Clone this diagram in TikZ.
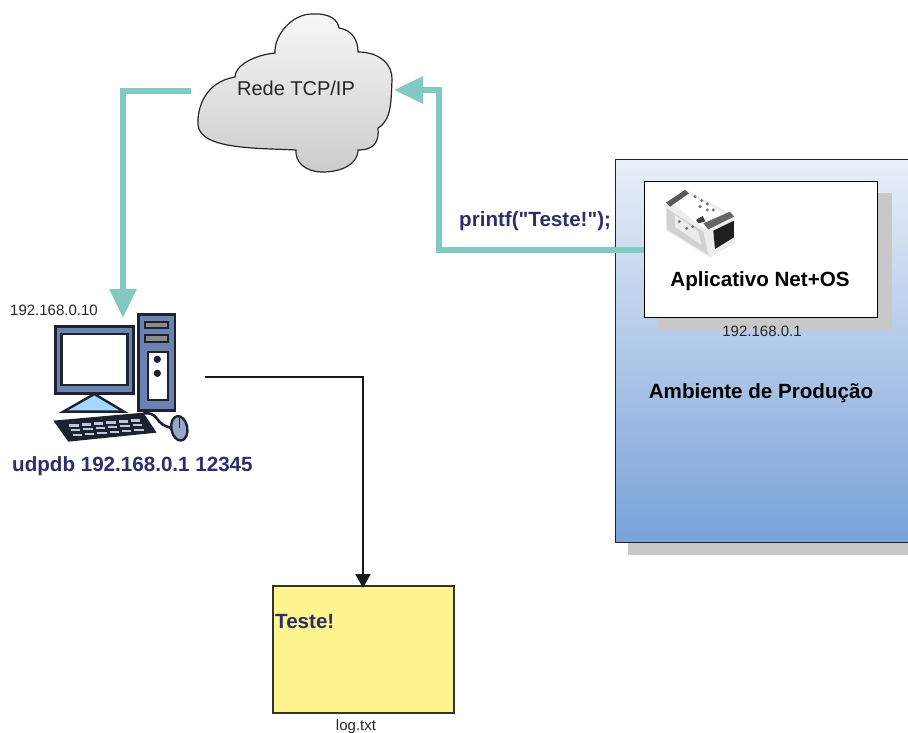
\documentclass[tikz,border=0pt]{standalone}
\usepackage{fontspec}
\setmainfont{Liberation Sans}
\newfontfamily\rawf{Liberation Sans}
\usetikzlibrary{arrows.meta,calc}
\definecolor{teal1}{HTML}{82C9C4}
\definecolor{navy1}{HTML}{2E2E6E}
\definecolor{shad}{HTML}{C8C8C8}
\definecolor{boxtop}{HTML}{E9EFF8}
\definecolor{boxbot}{HTML}{78A2D9}
\definecolor{notey}{HTML}{FFF58F}
\definecolor{towerb}{HTML}{6C82B0}
\definecolor{inkd}{HTML}{1C2230}
\tikzset{
  tealline/.style={draw=teal1,line width=6pt,line join=miter,-{Triangle[length=29pt,width=26pt]}},
  blackline/.style={draw=black!90,line width=2.6pt,-{Triangle[length=14pt,width=15pt]}},
  smalltxt/.style={font=\fontsize{15}{16}\selectfont,text=black!85,inner sep=0pt},
  boldblack/.style={font=\bfseries\fontsize{20.6}{22}\selectfont,text=black,inner sep=0pt},
  boldnavy/.style={font=\bfseries\fontsize{20.6}{22}\selectfont,text=navy1,inner sep=0pt},
  pcline/.style={draw=inkd,line width=2.6pt,line join=round},
}
\begin{document}
\begin{tikzpicture}[x=1pt,y=-1pt]
\useasboundingbox (0,0) rectangle (908,733);
\fill[white] (0,0) rectangle (908,733);
% production box
\fill[shad] (628,172) rectangle (908,555);
\node[draw=inkd,line width=1.2pt,top color=boxtop,bottom color=boxbot,minimum width=300pt,minimum height=383pt,inner sep=0pt,anchor=north west] (prod) at (615,159) {};
\fill[shad] (658,193) rectangle (892,330);
\node[draw=black,line width=1.4pt,fill=white,minimum width=233pt,minimum height=136pt,inner sep=0pt,anchor=north west] (app) at (644,181) {};
\node[boldblack] (apptxt) at (760,281) {Aplicativo Net+OS};
\node[smalltxt] (appip) at (762,331) {192.168.0.1};
\node[boldblack] (amb) at (761,393) {Ambiente de Produção};
% chip
\begin{scope}[shift={(620,160)},x=0.3333pt,y=-0.3333pt]
\fill[black!7] (135,130)--(200,90)--(340,165)--(345,250)--(270,292)--(240,275)--(140,212)--cycle;
\fill[white] (160,130)--(210,105)--(325,170)--(250,205)--cycle;
\fill[black!18] (140,145)--(250,215)--(265,285)--(140,208)--cycle;
\fill[black!8] (165,165)--(235,215)--(245,255)--(165,200)--cycle;
\fill[black!65] (138,128)--(195,90)--(207,100)--(150,140)--cycle;
\fill[black!60] (250,190)--(330,155)--(342,170)--(265,208)--cycle;
\fill[black!88] (280,212)--(342,182)--(342,232)--(285,267)--cycle;
\fill[black!75] (228,180)--(248,168)--(256,184)--(236,190)--cycle;
\foreach \p in {(225,110),(245,122),(262,132),(240,140),(262,150),(280,150),(178,185),(200,205),(218,200)}
  \fill[black!55] \p circle (5);
\end{scope}
% cloud
\path[draw=black!85,line width=1.2pt,top color=black!3,bottom color=black!20,shading angle=0]
 (198,125)
 .. controls (197,108) and (205,82) .. (235,77)
 .. controls (235,65) and (255,55) .. (275,53)
 .. controls (274,35) and (292,14) .. (312,14)
 .. controls (330,13) and (338,20) .. (339,28)
 .. controls (352,30) and (358,40) .. (358,52)
 .. controls (380,52) and (393,65) .. (392,80)
 .. controls (391,100) and (392,120) .. (378,128)
 .. controls (379,140) and (376,150) .. (358,150)
 .. controls (358,165) and (340,172) .. (323,172)
 .. controls (305,172) and (295,162) .. (296,150)
 .. controls (260,148) and (200,150) .. (198,125) -- cycle;
\node[font=\fontsize{20}{22}\selectfont,text=black!85,inner sep=0pt] (cloud) at (296,88) {Rede TCP/IP};
\coordinate (cloudW) at (191,91);
\coordinate (cloudE) at (394,90);
% PC
\begin{scope}[shift={(0,290)},x=0.3333pt,y=-0.3333pt]
\fill[towerb,draw=inkd,line width=2.6pt] (416,74) rectangle (525,362);
\fill[black!45,draw=inkd,line width=2pt] (435,96) rectangle (503,115);
\fill[black!45,draw=inkd,line width=2pt] (435,136) rectangle (503,155);
\fill[white,draw=inkd,line width=2pt] (443,185) rectangle (503,330);
\fill[inkd] (472,208) circle (11);
\fill[inkd] (472,250) circle (11);
\fill[towerb,draw=inkd,line width=2.6pt] (167,110) rectangle (400,310);
\fill[white,draw=inkd,line width=2.6pt] (185,132) rectangle (382,285);
\fill[blue!45!cyan!35!white,draw=inkd,line width=2.4pt] (283,312)--(190,365)--(372,365)--(305,325)--cycle;
\fill[inkd] (160,392)--(430,368)--(470,428)--(205,455)--cycle;
\foreach \r in {0,1,2}{\foreach \c in {0,1,2,3,4,5}{
  \fill[towerb!45] ($(208,403)+(\c*37,-\c*3)+(\r*5,\r*14)$) rectangle ++(28,7);
}}
\draw[pcline] (430,370) .. controls (470,365) and (470,395) .. (490,405) .. controls (505,412) and (515,415) .. (522,415);
\fill[towerb!70,draw=inkd,line width=2.4pt,rotate around={10:(538,415)}] (538,415) ellipse (24 and 37);
\draw[inkd,line width=1.4pt] (538,380)--(538,415);
\end{scope}
\coordinate (pcTop) at (123,318);
\coordinate (pcE) at (205,377);
\node[smalltxt,anchor=west] (pcip) at (10,310) {192.168.0.10};
\node[boldnavy,anchor=west] (udp) at (12,466) {udpdb 192.168.0.1 12345};
% note
\node[draw=black!80,line width=1.6pt,fill=notey,minimum width=181pt,minimum height=127pt,inner sep=0pt,anchor=north west] (note) at (272,585) {};
\node[boldnavy,anchor=west] (notetxt) at (275,622) {Teste!};
\node[smalltxt] (log) at (356,727) {log.txt};
\coordinate (noteN) at (363,588);
% connectors
\draw[tealline] (app.west|-0,250) -- (439,250) -- (439,90) -- (cloudE);
\draw[tealline] (cloudW) -- (123,91) -- (pcTop);
\draw[blackline] (pcE) -- (363,377) -- (noteN);
\node[font=\rawf\bfseries\fontsize{20.6}{22}\selectfont,text=navy1,inner sep=0pt,anchor=west] (printf) at (459,221) {printf("Teste!");};
\end{tikzpicture}
\end{document}
